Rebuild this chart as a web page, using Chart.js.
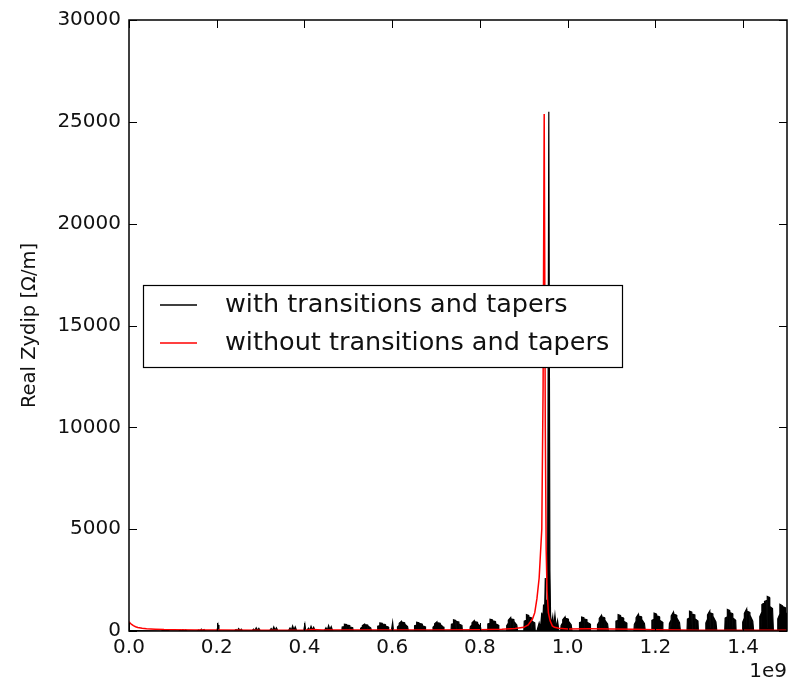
<!DOCTYPE html>
<html><head><meta charset="utf-8">
<script src="https://cdn.jsdelivr.net/npm/chart.js@4.4.1/dist/chart.umd.min.js"></script>
<style>html,body{margin:0;padding:0;background:#fff}</style>
</head><body>
<canvas id="c" width="794" height="688" style="width:794px;height:688px"></canvas>
<script>
// x values in units of 1e9 (axis offset label "1e9")
const xTickValues = [0.0, 0.2, 0.4, 0.6, 0.8, 1.0, 1.2, 1.4];
const yTickValues = [0, 5000, 10000, 15000, 20000, 25000, 30000];
const seriesNames = ['with transitions and tapers', 'without transitions and tapers'];
const yAxisTitle = 'Real Zydip [\u03A9/m]';
const xOffsetLabel = '1e9';

const withTransitions = [
  [0.000,20],[0.040,10],
  [0.073,0],[0.077,30],[0.080,8],[0.083,50],[0.086,12],[0.089,40],[0.092,5],[0.095,0],
  [0.113,0],[0.117,36],[0.120,9],[0.123,60],[0.126,15],[0.129,48],[0.132,6],[0.135,0],
  [0.155,0],[0.159,54],[0.162,14],[0.165,90],[0.168,22],[0.171,72],[0.174,9],[0.177,0],
  [0.198,0],[0.201,60],[0.203,300],[0.205,50],[0.208,0],
  [0.240,0],[0.244,72],[0.247,18],[0.250,120],[0.253,30],[0.256,96],[0.259,12],[0.262,0],
  [0.280,0],[0.284,96],[0.287,24],[0.290,160],[0.293,40],[0.296,128],[0.299,16],[0.302,0],
  [0.320,0],[0.324,120],[0.327,30],[0.330,200],[0.333,50],[0.336,160],[0.339,20],[0.342,0],
  [0.363,0],[0.367,150],[0.370,38],[0.373,250],[0.376,62],[0.379,200],[0.382,25],[0.385,0],
  [0.398,0],[0.401,330],[0.403,0],
  [0.405,0],[0.409,140],[0.412,35],[0.415,230],[0.418,58],[0.421,185],[0.424,23],[0.427,0],
  [0.445,0],[0.449,160],[0.452,40],[0.455,270],[0.458,68],[0.461,215],[0.464,27],[0.467,0],
  [0.485,0],[0.486,198],[0.490,215],[0.4905,33],[0.491,330],[0.496,314],[0.4965,33],[0.497,280],[0.503,264],[0.5035,33],[0.504,198],[0.510,165],[0.511,0],
  [0.527,0],[0.528,136],[0.531,187],[0.5315,34],[0.532,272],[0.537,340],[0.5375,51],[0.538,306],[0.544,289],[0.5445,34],[0.545,238],[0.551,153],[0.553,0],
  [0.566,0],[0.567,240],[0.571,260],[0.5715,40],[0.572,400],[0.577,380],[0.5775,40],[0.578,340],[0.584,320],[0.5845,40],[0.585,240],[0.591,200],[0.592,0],
  [0.598,0],[0.601,430],[0.603,0],
  [0.611,0],[0.612,192],[0.615,264],[0.6155,48],[0.616,384],[0.621,480],[0.6215,72],[0.622,432],[0.628,408],[0.6285,48],[0.629,336],[0.635,216],[0.637,0],
  [0.650,0],[0.651,258],[0.655,280],[0.6555,43],[0.656,430],[0.661,408],[0.6615,43],[0.662,365],[0.668,344],[0.6685,43],[0.669,258],[0.675,215],[0.676,0],
  [0.692,0],[0.693,180],[0.696,248],[0.6965,45],[0.697,360],[0.702,450],[0.7025,68],[0.703,405],[0.709,383],[0.7095,45],[0.710,315],[0.716,203],[0.718,0],
  [0.734,0],[0.735,330],[0.739,358],[0.7395,55],[0.740,550],[0.745,522],[0.7455,55],[0.746,468],[0.752,440],[0.7525,55],[0.753,330],[0.759,275],[0.760,0],
  [0.777,0],[0.778,204],[0.781,280],[0.7815,51],[0.782,408],[0.787,510],[0.7875,77],[0.788,459],[0.794,434],[0.7945,51],[0.795,357],[0.801,230],[0.803,0],
  [0.817,0],[0.818,348],[0.822,377],[0.8225,58],[0.823,580],[0.828,551],[0.8285,58],[0.829,493],[0.835,464],[0.8355,58],[0.836,348],[0.842,290],[0.843,0],
  [0.860,0],[0.861,264],[0.864,363],[0.8645,66],[0.865,528],[0.870,660],[0.8705,99],[0.871,594],[0.877,561],[0.8775,66],[0.878,462],[0.884,297],[0.886,0],
  [0.900,0],[0.901,480],[0.905,520],[0.9055,80],[0.906,800],[0.911,760],[0.9115,80],[0.912,680],[0.918,640],[0.9185,80],[0.919,480],[0.925,400],[0.926,0],
  [0.930,0],[0.935,400],[0.938,150],[0.941,900],[0.943,300],[0.945,1300],[0.947,500],
  [0.949,2600],[0.951,900],[0.953,1500],[0.9545,4000],[0.9570,25490],[0.9595,3000],[0.961,800],
  [0.963,300],[0.966,700],[0.968,200],[0.971,800],[0.974,150],[0.977,500],[0.980,0],
  [0.984,0],[0.985,276],[0.988,380],[0.9885,69],[0.989,552],[0.994,690],[0.9945,104],[0.995,621],[1.001,587],[1.0015,69],[1.002,483],[1.008,311],[1.010,0],
  [1.026,0],[1.027,414],[1.031,449],[1.0315,69],[1.032,690],[1.037,656],[1.0375,69],[1.038,587],[1.044,552],[1.0445,69],[1.045,414],[1.051,345],[1.052,0],
  [1.067,0],[1.068,308],[1.071,424],[1.0715,77],[1.072,616],[1.077,770],[1.0775,116],[1.078,693],[1.084,655],[1.0845,77],[1.085,539],[1.091,347],[1.093,0],
  [1.109,0],[1.110,480],[1.114,520],[1.1145,80],[1.115,800],[1.120,760],[1.1205,80],[1.121,680],[1.127,640],[1.1275,80],[1.128,480],[1.134,400],[1.135,0],
  [1.151,0],[1.152,328],[1.155,451],[1.1555,82],[1.156,656],[1.161,820],[1.1615,123],[1.162,738],[1.168,697],[1.1685,82],[1.169,574],[1.175,369],[1.177,0],
  [1.191,0],[1.192,528],[1.196,572],[1.1965,88],[1.197,880],[1.202,836],[1.2025,88],[1.203,748],[1.209,704],[1.2095,88],[1.210,528],[1.216,440],[1.217,0],
  [1.231,0],[1.232,368],[1.235,506],[1.2355,92],[1.236,736],[1.241,920],[1.2415,138],[1.242,828],[1.248,782],[1.2485,92],[1.249,644],[1.255,414],[1.257,0],
  [1.272,0],[1.273,588],[1.277,637],[1.2775,98],[1.278,980],[1.283,931],[1.2835,98],[1.284,833],[1.290,784],[1.2905,98],[1.291,588],[1.297,490],[1.298,0],
  [1.314,0],[1.315,396],[1.318,545],[1.3185,99],[1.319,792],[1.324,990],[1.3245,149],[1.325,891],[1.331,842],[1.3315,99],[1.332,693],[1.338,446],[1.340,0],
  [1.358,0],[1.359,636],[1.363,689],[1.3635,106],[1.364,1060],[1.369,1007],[1.3695,106],[1.370,901],[1.376,848],[1.3765,106],[1.377,636],[1.383,530],[1.384,0],
  [1.398,0],[1.399,432],[1.402,594],[1.4025,108],[1.403,864],[1.408,1080],[1.4085,162],[1.409,972],[1.415,918],[1.4155,108],[1.416,756],[1.422,486],[1.424,0],
  [1.437,0],[1.438,700],[1.442,900],[1.4425,100],[1.443,1300],[1.448,1380],[1.4485,150],[1.449,1450],[1.454,1500],[1.4545,150],[1.455,1700],[1.460,1650],[1.4605,150],[1.461,1200],[1.467,1100],[1.469,0],
  [1.478,0],[1.479,600],[1.483,800],[1.4835,100],[1.484,1310],[1.489,1250],[1.4895,130],[1.490,1200],[1.496,1150],[1.4965,120],[1.497,900],[1.500,850]
];

const withoutTransitions = [
  [0.000,460],[0.003,380],[0.006,320],[0.010,260],[0.015,210],[0.020,170],[0.030,130],
  [0.040,110],[0.060,90],[0.080,70],[0.100,60],[0.150,50],[0.200,45],[0.300,40],[0.400,40],
  [0.420,70],[0.440,45],[0.500,45],[0.600,45],[0.700,50],[0.800,60],[0.850,80],[0.880,120],
  [0.900,180],[0.910,300],[0.920,600],[0.925,900],[0.930,1600],[0.935,2600],[0.941,5000],
  [0.944,12000],[0.9465,25380],[0.949,10000],[0.951,4000],[0.953,2000],[0.956,900],
  [0.960,500],[0.965,250],[0.970,180],[0.980,130],[1.000,100],[1.050,110],[1.100,100],
  [1.150,80],[1.200,60],[1.300,40],[1.400,35],[1.500,35]
];

const FONT = 'DejaVu Sans';

const framePlugin = {
  id: 'frame',
  afterDatasetsDraw(chart) {
    const ctx = chart.ctx, a = chart.chartArea;
    const xs = chart.scales.x, ys = chart.scales.y;
    ctx.save();
    ctx.strokeStyle = '#000';
    ctx.lineWidth = 1;
    const tl = 8;
    ctx.beginPath();
    xTickValues.forEach(v => {
      const px = Math.round(xs.getPixelForValue(v)) + 0.5;
      ctx.moveTo(px, a.bottom); ctx.lineTo(px, a.bottom - tl);
      ctx.moveTo(px, a.top); ctx.lineTo(px, a.top + tl);
    });
    yTickValues.forEach(v => {
      const py = Math.round(ys.getPixelForValue(v)) + 0.5;
      ctx.moveTo(a.left, py); ctx.lineTo(a.left + tl, py);
      ctx.moveTo(a.right, py); ctx.lineTo(a.right - tl, py);
    });
    ctx.stroke();
    ctx.lineWidth = 1.5;
    ctx.strokeRect(a.left, a.top, a.right - a.left, a.bottom - a.top);

    // legend
    const lx = 143, ly = 285, lw = 479, lh = 82;
    ctx.fillStyle = '#fff';
    ctx.fillRect(lx, ly, lw, lh);
    ctx.lineWidth = 1.2;
    ctx.strokeStyle = '#000';
    ctx.strokeRect(lx + 0.5, ly + 0.5, lw, lh);
    const rows = [[305, '#000000'], [343, '#ff0000']];
    ctx.font = '25.5px "' + FONT + '"';
    ctx.textBaseline = 'middle';
    ctx.textAlign = 'left';
    rows.forEach((r, i) => {
      ctx.strokeStyle = r[1];
      ctx.lineWidth = 1.3;
      ctx.beginPath();
      ctx.moveTo(160, r[0]); ctx.lineTo(197, r[0]);
      ctx.stroke();
      ctx.fillStyle = '#111';
      ctx.fillText(seriesNames[i], 225, r[0]);
    });

    ctx.font = '20px "' + FONT + '"';
    ctx.textAlign = 'right';
    ctx.textBaseline = 'alphabetic';
    ctx.fillStyle = '#111';
    ctx.fillText(xOffsetLabel, a.right, 677);
    ctx.restore();
  }
};

new Chart(document.getElementById('c'), {
  type: 'line',
  data: {
    datasets: [
      {
        label: seriesNames[0],
        data: withTransitions.map(p => ({x: p[0], y: p[1]})),
        borderColor: '#000000', backgroundColor: '#000000', borderWidth: 1.2,
        pointRadius: 0, tension: 0, fill: 'origin', order: 2
      },
      {
        label: seriesNames[1],
        data: withoutTransitions.map(p => ({x: p[0], y: p[1]})),
        borderColor: '#ff0000', borderWidth: 1.5, pointRadius: 0, tension: 0, fill: false, order: 1
      }
    ]
  },
  options: {
    responsive: false,
    devicePixelRatio: 1,
    animation: false,
    layout: { padding: { top: 20, right: 7, left: 0, bottom: 0 } },
    plugins: { legend: { display: false }, tooltip: { enabled: false }, filler: { propagate: false } },
    scales: {
      x: {
        type: 'linear', min: 0, max: 1.5,
        afterBuildTicks: s => { s.ticks = xTickValues.map(v => ({ value: v })); },
        afterFit: s => { s.height = 57; },
        ticks: {
          callback: v => Number(v).toFixed(1),
          font: { family: FONT, size: 20 }, color: '#111', padding: 5,
          maxRotation: 0, autoSkip: false
        },
        grid: { display: false, drawTicks: false },
        border: { display: false }
      },
      y: {
        type: 'linear', min: 0, max: 30000,
        afterBuildTicks: s => { s.ticks = yTickValues.map(v => ({ value: v })); },
        afterFit: s => { s.width = 129; },
        ticks: {
          callback: v => String(v),
          font: { family: FONT, size: 20 }, color: '#111', padding: 8, autoSkip: false
        },
        title: {
          display: true, text: yAxisTitle, color: '#111',
          font: { family: FONT, size: 19.5 }, padding: { top: 18, bottom: 0 }
        },
        grid: { display: false, drawTicks: false },
        border: { display: false }
      }
    }
  },
  plugins: [framePlugin]
});
</script>
</body></html>
